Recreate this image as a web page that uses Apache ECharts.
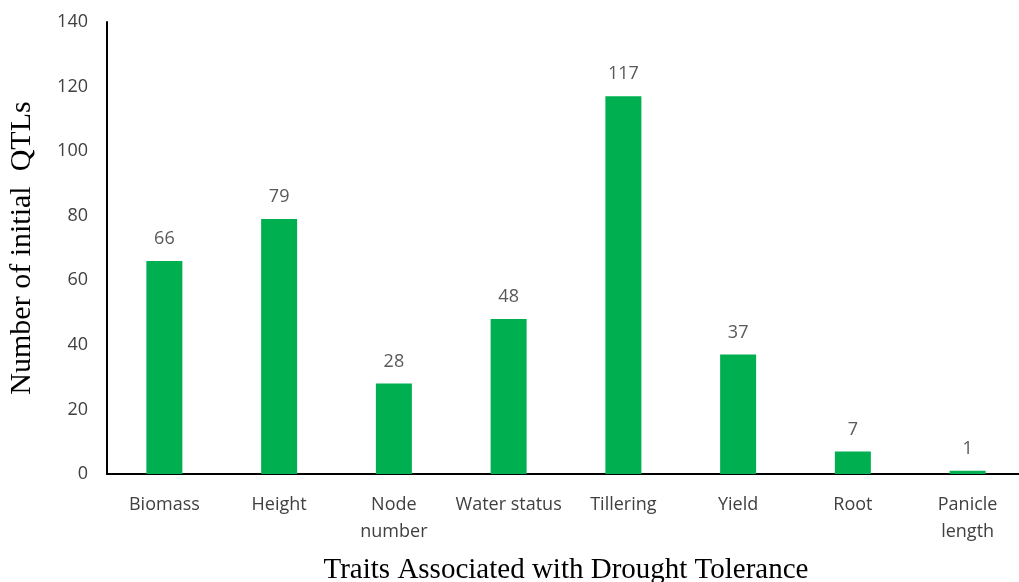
<!DOCTYPE html>
<html>
<head>
<meta charset="utf-8">
<script src="https://cdn.jsdelivr.net/npm/echarts@6/dist/echarts.min.js"></script>
<style>
  html, body { margin: 0; padding: 0; background: #fff; }
  #main { width: 1019px; height: 582px; }
</style>
</head>
<body>
<div id="main"></div>
<script>
// traits and QTL counts
var traits = ['Biomass', 'Height', 'Node\nnumber', 'Water status', 'Tillering', 'Yield', 'Root', 'Panicle\nlength'];
var qtlCounts = [66, 79, 28, 48, 117, 37, 7, 1];
var yTicks = { min: 0, max: 140, step: 20 };

var labelFont = '"Open Sans", sans-serif';
var nameFont = '"Liberation Serif", "Times New Roman", serif';

var myChart = echarts.init(document.getElementById('main'));
var option = {
  animation: false,
  grid: { left: 107, right: -6, top: 22, bottom: 108, outerBoundsMode: 'none', containLabel: false },
  xAxis: {
    type: 'category',
    data: traits,
    name: 'Traits Associated with Drought Tolerance',
    nameLocation: 'middle',
    nameGap: 82,
    nameTextStyle: { fontFamily: nameFont, fontSize: 29, color: '#000' },
    axisLine: { lineStyle: { color: '#000', width: 2 } },
    axisTick: { show: false },
    axisLabel: { fontFamily: labelFont, fontSize: 18, color: '#404040', margin: 17, lineHeight: 27, interval: 0 }
  },
  yAxis: {
    type: 'value',
    min: yTicks.min,
    max: yTicks.max,
    interval: yTicks.step,
    name: 'Number of initial  QTLs',
    nameLocation: 'middle',
    nameGap: 70,
    nameTextStyle: { fontFamily: nameFont, fontSize: 30, color: '#000' },
    axisLine: { show: true, lineStyle: { color: '#000', width: 2 } },
    axisTick: { show: false },
    splitLine: { show: false },
    axisLabel: { fontFamily: labelFont, fontSize: 18, color: '#404040', margin: 19 }
  },
  series: [{
    type: 'bar',
    data: qtlCounts,
    barWidth: 36,
    itemStyle: { color: '#00B050' },
    label: {
      show: true,
      position: 'top',
      distance: 13,
      fontFamily: labelFont,
      fontSize: 18,
      color: '#595959'
    }
  }]
};
myChart.setOption(option);
window.onresize = myChart.resize;
</script>
</body>
</html>
